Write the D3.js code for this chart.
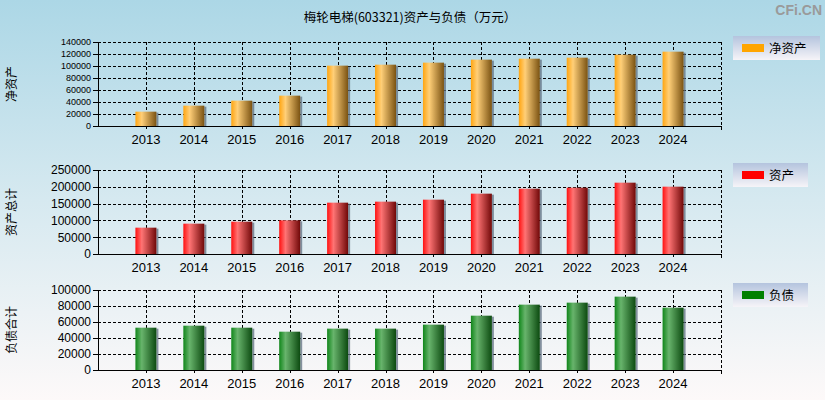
<!DOCTYPE html>
<meta charset="utf-8">
<style>
body { margin: 0; }
svg { display: block; font-family: "Liberation Sans", Arial, sans-serif; }
.grid line { stroke: #000; stroke-dasharray: 3,2; stroke-width: 1; shape-rendering: crispEdges; }
.axis path, .axis line { stroke: #000; shape-rendering: crispEdges; }
.axis text { fill: #000; }
</style>
<body>
<svg width="825" height="400"></svg>
</body>
<script src="https://d3js.org/d3.v7.min.js"></script>
<script>

// data
var years = ["2013", "2014", "2015", "2016", "2017", "2018", "2019", "2020", "2021", "2022", "2023", "2024"];
var netAssets = [23900, 33900, 42200, 50600, 100600, 102200, 105600, 110600, 112200, 113900, 118900, 123900];
var totalAssets = [78400, 90300, 96200, 100200, 152800, 155800, 161700, 179600, 194400, 197400, 212300, 200400];
var totalLiabilities = [52900, 55400, 52900, 47900, 51700, 51700, 56700, 67900, 81700, 84200, 91700, 77900];
var ticksNet = [0, 20000, 40000, 60000, 80000, 100000, 120000, 140000];
var ticksAssets = [0, 50000, 100000, 150000, 200000, 250000];
var ticksLiab = [0, 20000, 40000, 60000, 80000, 100000];

var svg = d3.select("svg");
var defs = svg.append("defs");

// page background
var bg = defs.append("linearGradient").attr("id", "bg")
    .attr("x1", 0).attr("y1", 0).attr("x2", 0).attr("y2", 1);
bg.append("stop").attr("offset", "0%").attr("stop-color", "#acd7e6");
bg.append("stop").attr("offset", "50%").attr("stop-color", "#d6e9f0");
bg.append("stop").attr("offset", "100%").attr("stop-color", "#fdf9f9");
svg.append("rect").attr("width", 825).attr("height", 400).attr("fill", "url(#bg)");

var lg = defs.append("linearGradient").attr("id", "legbg")
    .attr("x1", 0).attr("y1", 0).attr("x2", 0).attr("y2", 1);
lg.append("stop").attr("offset", "0%").attr("stop-color", "#b4c4de");
lg.append("stop").attr("offset", "100%").attr("stop-color", "#f6f4f8");

function barGradient(id, c0, c1, c2) {
  var g = defs.append("linearGradient").attr("id", id)
      .attr("x1", 0).attr("y1", 0).attr("x2", 1).attr("y2", 0);
  g.append("stop").attr("offset", "0%").attr("stop-color", c0);
  g.append("stop").attr("offset", "30%").attr("stop-color", c1);
  g.append("stop").attr("offset", "100%").attr("stop-color", c2);
}
barGradient("gOrange", "#ffa510", "#ffcf78", "#7a5212");
barGradient("gRed", "#ff1010", "#ff7474", "#700808");
barGradient("gGreen", "#10861a", "#68b46c", "#0c4a10");

// title
svg.append("text")
    .attr("x", 410).attr("y", 22)
    .attr("text-anchor", "middle")
    .style("font-size", "12.5px")
    .style("font-family", "'Noto Sans CJK SC', sans-serif")
    .text("梅轮电梯(603321)资产与负债（万元）");

svg.append("text")
    .attr("x", 822).attr("y", 15)
    .attr("text-anchor", "end")
    .style("font-size", "14px")
    .style("font-weight", "bold")
    .style("fill", "#9a9a9a")
    .text("CFi.CN");

var x0 = 98, x1 = 721;
var step = (x1 - x0) / 13;
var x = d3.scalePoint().domain(years).range([x0 + step, x1 - step]);
function px(v) { return Math.round(v) + 0.5; }

var panels = [
  {values: netAssets, ticks: ticksNet, top: 42, bottom: 126, fs: 9, fill: "url(#gOrange)",
   title: "净资产", legend: "净资产", swatch: "#ffa500", legTop: 36, legW: 87},
  {values: totalAssets, ticks: ticksAssets, top: 170, bottom: 254, fs: 12, fill: "url(#gRed)",
   title: "资产总计", legend: "资产", swatch: "#ff0000", legTop: 163, legW: 75},
  {values: totalLiabilities, ticks: ticksLiab, top: 290, bottom: 370, fs: 12, fill: "url(#gGreen)",
   title: "负债合计", legend: "负债", swatch: "#008000", legTop: 283, legW: 75}
];

panels.forEach(function(p) {
  var y = d3.scaleLinear()
      .domain([0, d3.max(p.ticks)])
      .range([p.bottom, p.top]);

  var g = svg.append("g");

  // grid
  var grid = g.append("g").attr("class", "grid");
  grid.selectAll(".h")
    .data(p.ticks.slice(1))
    .enter().append("line")
      .attr("x1", x0).attr("x2", x1)
      .attr("y1", function(d) { return px(y(d)); })
      .attr("y2", function(d) { return px(y(d)); });
  grid.selectAll(".v")
    .data(years)
    .enter().append("line")
      .attr("x1", function(d) { return px(x(d)); })
      .attr("x2", function(d) { return px(x(d)); })
      .attr("y1", p.top).attr("y2", p.bottom);
  grid.append("line")
      .attr("x1", px(x1)).attr("x2", px(x1))
      .attr("y1", p.top).attr("y2", p.bottom);

  // bars
  var bw = 21;
  g.selectAll(".shadow")
    .data(p.values)
    .enter().append("rect")
      .attr("x", function(d, i) { return x(years[i]) + bw / 2; })
      .attr("y", function(d) { return y(d) + 1; })
      .attr("width", 2)
      .attr("height", function(d) { return p.bottom - y(d) - 1; })
      .attr("fill", "#5f6f80")
      .attr("opacity", 0.75);
  g.selectAll(".bar")
    .data(p.values)
    .enter().append("rect")
      .attr("x", function(d, i) { return x(years[i]) - bw / 2; })
      .attr("y", function(d) { return y(d); })
      .attr("width", bw)
      .attr("height", function(d) { return p.bottom - y(d); })
      .attr("fill", p.fill);

  // y axis
  var ya = g.append("g")
      .attr("class", "axis")
      .attr("transform", "translate(" + x0 + ",0)")
      .call(d3.axisLeft(y).tickValues(p.ticks).tickSize(5).tickPadding(2).tickSizeOuter(0).tickFormat(d3.format("d")));
  ya.selectAll("text").style("font-size", p.fs + "px");

  // x axis
  var xa = g.append("g")
      .attr("class", "axis")
      .attr("transform", "translate(0," + p.bottom + ")");
  xa.append("line").attr("x1", x0).attr("x2", x1).attr("stroke", "#000");
  xa.append("line").attr("x1", px(x1)).attr("x2", px(x1)).attr("y2", 4).attr("stroke", "#000");
  xa.selectAll(".tk")
    .data(years)
    .enter().append("line")
      .attr("x1", function(d) { return px(x(d)); })
      .attr("x2", function(d) { return px(x(d)); })
      .attr("y2", 3).attr("stroke", "#000");
  xa.selectAll(".lbl")
    .data(years)
    .enter().append("text")
      .attr("x", function(d) { return x(d); })
      .attr("y", 18)
      .attr("text-anchor", "middle")
      .style("font-size", "13px")
      .text(function(d) { return d; });

  // axis title
  svg.append("text")
      .attr("transform", "translate(16," + ((p.top + p.bottom) / 2) + ") rotate(-90)")
      .attr("text-anchor", "middle")
      .style("font-size", "12px")
      .style("font-family", "'Noto Sans CJK SC', sans-serif")
      .text(p.title);

  // legend
  var leg = svg.append("g").attr("transform", "translate(733," + p.legTop + ")");
  leg.append("rect").attr("width", p.legW).attr("height", 24).attr("fill", "url(#legbg)");
  leg.append("rect").attr("x", 9).attr("y", 8).attr("width", 22).attr("height", 8).attr("fill", p.swatch);
  leg.append("text")
      .attr("x", 36).attr("y", 16.5)
      .style("font-size", "12.5px")
      .style("font-family", "'Noto Sans CJK SC', sans-serif")
      .text(p.legend);
});

</script>
